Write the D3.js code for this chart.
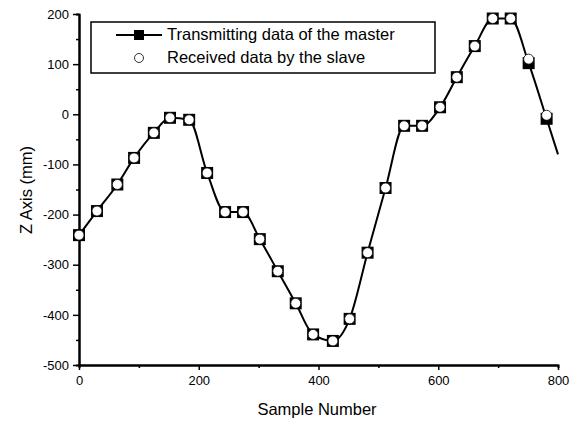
<!doctype html>
<html>
<head>
<meta charset="utf-8">
<style>
  body { margin: 0; background: #fff; }
  text { font-family: "Liberation Sans", Arial, sans-serif; fill: #000; }
</style>
</head>
<body>
<svg></svg>
<script src="https://cdnjs.cloudflare.com/ajax/libs/d3/7.8.5/d3.min.js"></script>
<script>
// sample numbers of the plotted markers
var samples = [0, 30, 64, 92, 125, 152, 184, 214, 244, 274, 302, 332, 362, 391,
  424, 452, 482, 512, 543, 573, 603, 631, 661, 691, 721, 751, 781];
// Z axis of the master (filled squares)
var master = [-241, -193, -140, -87, -37, -7, -11, -117, -195, -195, -249, -313, -377, -439,
  -452, -408, -276, -147, -23, -23, 14, 74, 136, 191, 191, 102, -9];
// Z axis received by the slave (open circles)
var slave = [-241, -193, -140, -87, -37, -7, -11, -117, -195, -195, -249, -313, -377, -439,
  -452, -408, -276, -147, -23, -23, 14, 74, 136, 191, 191, 110, -2];
// line continues past the last marker
var tailSample = [800];
var tailValue = [-80];

var xTicks = [0, 200, 400, 600, 800];
var yTicks = [-500, -400, -300, -200, -100, 0, 100, 200];
var legendLabels = ["Transmitting data of the master", "Received data by the slave"];

var width = 576, height = 421;
var svg = d3.select("svg").attr("width", width).attr("height", height);

var x = d3.scaleLinear().domain([0, 800]).range([79, 558]);
var y = d3.scaleLinear().domain([-500, 200]).range([365, 14]);

var fmt = function(d) { return String(d); };

// axes
var xAxis = d3.axisBottom(x).tickValues(xTicks).tickSize(5).tickSizeOuter(0).tickPadding(6).tickFormat(fmt);
var xMinor = d3.axisBottom(x).tickValues([100, 300, 500, 700]).tickSize(3).tickFormat("");
var yAxis = d3.axisLeft(y).tickValues(yTicks).tickSize(6).tickSizeOuter(0).tickPadding(4).tickFormat(fmt);
var yMinor = d3.axisLeft(y).tickValues([-450, -350, -250, -150, -50, 50, 150]).tickSize(3).tickFormat("");

function styleAxis(g) {
  g.select(".domain").attr("stroke-width", 2);
  g.selectAll(".tick line").attr("stroke-width", 1.5);
  g.selectAll("text").attr("font-size", 13).attr("font-family", "Liberation Sans, Arial, sans-serif");
}

svg.append("g").attr("transform", "translate(0,365)").call(xMinor).call(styleAxis);
svg.append("g").attr("transform", "translate(0,365)").call(xAxis).call(styleAxis);
svg.append("g").attr("transform", "translate(79,0)").call(yMinor).call(styleAxis);
svg.append("g").attr("transform", "translate(79,0)").call(yAxis).call(styleAxis);

svg.append("text").attr("x", 317).attr("y", 415).attr("text-anchor", "middle")
  .attr("font-size", 16.5).text("Sample Number");
svg.append("text").attr("transform", "translate(32,190) rotate(-90)")
  .attr("text-anchor", "middle").attr("font-size", 16.5).text("Z Axis (mm)");

// master line
var linePts = samples.map(function(s, i) { return [s, master[i]]; })
  .concat(tailSample.map(function(s, i) { return [s, tailValue[i]]; }));
var line = d3.line()
  .x(function(d) { return x(d[0]); })
  .y(function(d) { return y(d[1]); })
  .curve(d3.curveMonotoneX);

svg.append("path").datum(linePts).attr("d", line)
  .attr("fill", "none").attr("stroke", "#000").attr("stroke-width", 2);

// master squares
svg.append("g").selectAll("rect").data(samples).enter().append("rect")
  .attr("x", function(d) { return x(d) - 6; })
  .attr("y", function(d, i) { return y(master[i]) - 6; })
  .attr("width", 12).attr("height", 12)
  .attr("fill", "#000");

// slave circles
svg.append("g").selectAll("circle").data(samples).enter().append("circle")
  .attr("cx", function(d) { return x(d); })
  .attr("cy", function(d, i) { return y(slave[i]); })
  .attr("r", 5)
  .attr("fill", "#fff").attr("stroke", "#000").attr("stroke-width", 0.8);

// legend
var lg = svg.append("g");
lg.append("rect").attr("x", 91).attr("y", 22).attr("width", 344).attr("height", 51)
  .attr("fill", "#fff").attr("stroke", "#000").attr("stroke-width", 1.5);
lg.append("line").attr("x1", 116).attr("x2", 162).attr("y1", 35).attr("y2", 35)
  .attr("stroke", "#000").attr("stroke-width", 2);
lg.append("rect").attr("x", 134).attr("y", 30).attr("width", 10).attr("height", 10).attr("fill", "#000");
lg.append("circle").attr("cx", 139).attr("cy", 58).attr("r", 4.5)
  .attr("fill", "#fff").attr("stroke", "#000").attr("stroke-width", 0.8);
lg.selectAll("text.lab").data(legendLabels).enter().append("text")
  .attr("x", 167).attr("y", function(d, i) { return 40 + i * 23; })
  .attr("font-size", 16.5).text(function(d) { return d; });
</script>
</body>
</html>
